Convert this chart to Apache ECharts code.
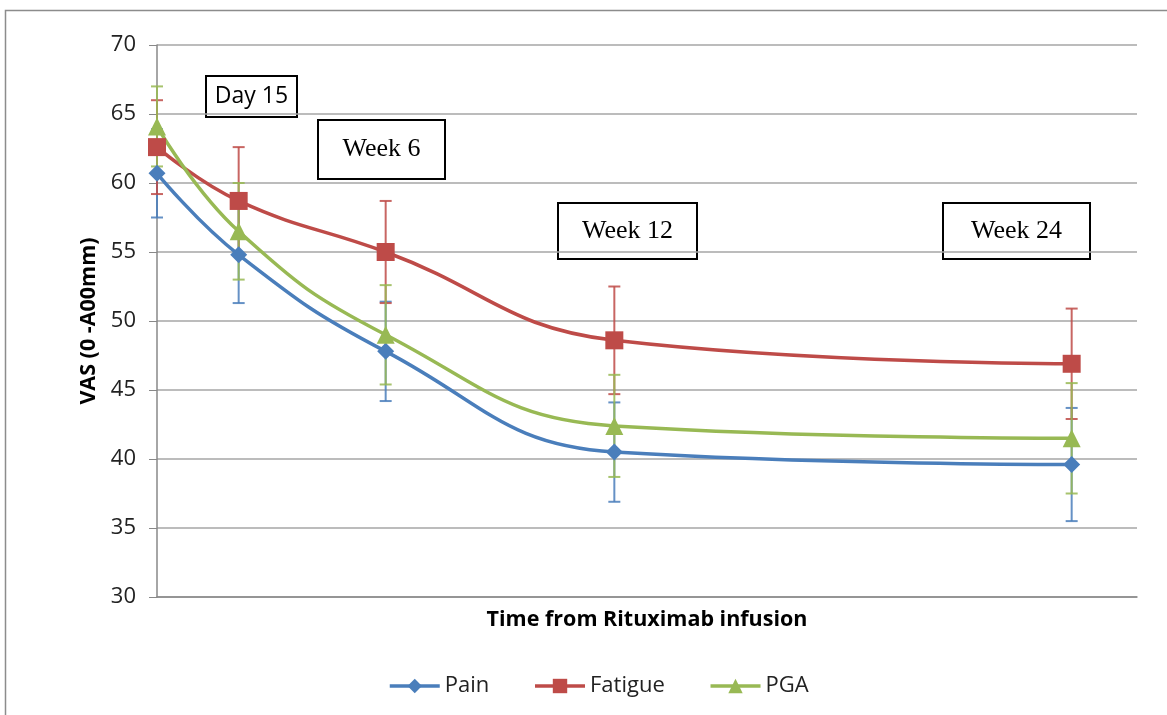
<!DOCTYPE html>
<html>
<head>
<meta charset="utf-8">
<script src="https://cdn.jsdelivr.net/npm/echarts@6/dist/echarts.min.js"></script>
<style>html,body{margin:0;padding:0;background:#fff;}#c{width:1167px;height:715px;}</style>
</head>
<body>
<div id="c"></div>
<script>
const days = [0, 15, 42, 84, 168];
const painMean = [60.7, 54.8, 47.8, 40.5, 39.6];
const painErr = [3.2, 3.5, 3.6, 3.6, 4.1];
const fatigueMean = [62.6, 58.7, 55.0, 48.6, 46.9];
const fatigueErr = [3.4, 3.9, 3.7, 3.9, 4.0];
const pgaMean = [64.1, 56.5, 49.0, 42.4, 41.5];
const pgaErr = [2.9, 3.5, 3.6, 3.7, 4.0];
const yTicks = [30, 35, 40, 45, 50, 55, 60, 65, 70];
const timeLabels = ['Day 15', 'Week 6', 'Week 12', 'Week 24'];

const colors = {Pain: '#4A7EBB', Fatigue: '#BE4B48', PGA: '#98B954'};

function pts(mean) { return days.map((d, i) => [d, mean[i]]); }
function errData(mean, err) { return days.map((d, i) => [d, mean[i] - err[i], mean[i] + err[i]]); }
function errSeries(name, mean, err, color) {
  return {
    type: 'custom', name: name + ' SD', z: 1,
    data: errData(mean, err),
    encode: {x: 0, y: [1, 2]},
    renderItem: function (params, api) {
      const x = api.value(0), lo = api.value(1), hi = api.value(2);
      const p1 = api.coord([x, hi]), p2 = api.coord([x, lo]);
      const w = 6;
      const st = {stroke: color, lineWidth: 2, opacity: 0.85};
      return {type: 'group', children: [
        {type: 'line', shape: {x1: p1[0], y1: p1[1], x2: p2[0], y2: p2[1]}, style: st},
        {type: 'line', shape: {x1: p1[0] - w, y1: p1[1], x2: p1[0] + w, y2: p1[1]}, style: st},
        {type: 'line', shape: {x1: p2[0] - w, y1: p2[1], x2: p2[0] + w, y2: p2[1]}, style: st}
      ]};
    }
  };
}
function lineSeries(name, mean, symbol, size) {
  return {
    type: 'line', name: name, z: 3, smooth: 0.45,
    data: pts(mean), symbol: symbol, symbolSize: size,
    lineStyle: {color: colors[name], width: 3.5},
    itemStyle: {color: colors[name]}
  };
}

function box(label, x, y, w, h, font, size) {
  return {
    type: 'group', x: x, y: y, z: 100,
    children: [
      {type: 'rect', shape: {x: 0, y: 0, width: w, height: h}, style: {fill: '#fff', stroke: '#000', lineWidth: 2}},
      {type: 'text', x: w / 2, y: h / 2, style: {text: label, fontFamily: font, fontSize: size, fill: '#000', align: 'center', verticalAlign: 'middle'}}
    ]
  };
}

const chart = echarts.init(document.getElementById('c'));
chart.setOption({
  animation: false,
  backgroundColor: '#fff',
  grid: {left: 157, right: 30, top: 45, bottom: 118, containLabel: false},
  xAxis: {
    type: 'value', min: 0, max: 180,
    name: 'Time from Rituximab infusion', nameLocation: 'middle', nameGap: 12,
    nameTextStyle: {fontFamily: 'Open Sans', fontWeight: 'bold', fontSize: 21.5, color: '#000'},
    axisLine: {show: true, onZero: false, lineStyle: {color: '#888', width: 1.5}},
    axisTick: {show: false}, axisLabel: {show: false}, splitLine: {show: false}
  },
  yAxis: {
    type: 'value', min: yTicks[0], max: yTicks[yTicks.length - 1], interval: 5,
    name: 'VAS (0 -A00mm)', nameLocation: 'middle', nameGap: 57, nameRotate: 90,
    nameTextStyle: {fontFamily: 'Open Sans', fontWeight: 'bold', fontSize: 21.5, color: '#000'},
    axisLine: {show: true, lineStyle: {color: '#888', width: 1.5}},
    axisTick: {show: true, length: 8, lineStyle: {color: '#888'}},
    axisLabel: {fontFamily: 'Open Sans', fontSize: 22, color: '#222', margin: 21},
    splitLine: {show: true, lineStyle: {color: '#A6A6A6', width: 1.5}}
  },
  legend: {
    data: ['Pain', 'Fatigue', 'PGA'], left: 383, top: 670,
    itemWidth: 50, itemHeight: 18, itemGap: 44,
    lineStyle: {width: 3.5},
    textStyle: {fontFamily: 'Open Sans', fontSize: 22, color: '#222'}
  },
  graphic: [
    {type: 'rect', left: 3, top: 8, z: -10, silent: true, shape: {width: 1200, height: 720}, style: {fill: 'none', stroke: '#8c8c8c', lineWidth: 1.5}},
    box(timeLabels[0], 206, 76, 91, 41, 'Open Sans', 23),
    box(timeLabels[1], 318, 120, 127, 59, 'Liberation Serif', 26),
    box(timeLabels[2], 558, 203, 139, 56, 'Liberation Serif', 26),
    box(timeLabels[3], 943, 203, 147, 56, 'Liberation Serif', 26)
  ],
  series: [
    errSeries('Pain', painMean, painErr, colors.Pain),
    errSeries('Fatigue', fatigueMean, fatigueErr, colors.Fatigue),
    errSeries('PGA', pgaMean, pgaErr, colors.PGA),
    lineSeries('Pain', painMean, 'diamond', 17),
    lineSeries('Fatigue', fatigueMean, 'rect', 18),
    lineSeries('PGA', pgaMean, 'triangle', 18)
  ]
});
</script>
</body>
</html>
